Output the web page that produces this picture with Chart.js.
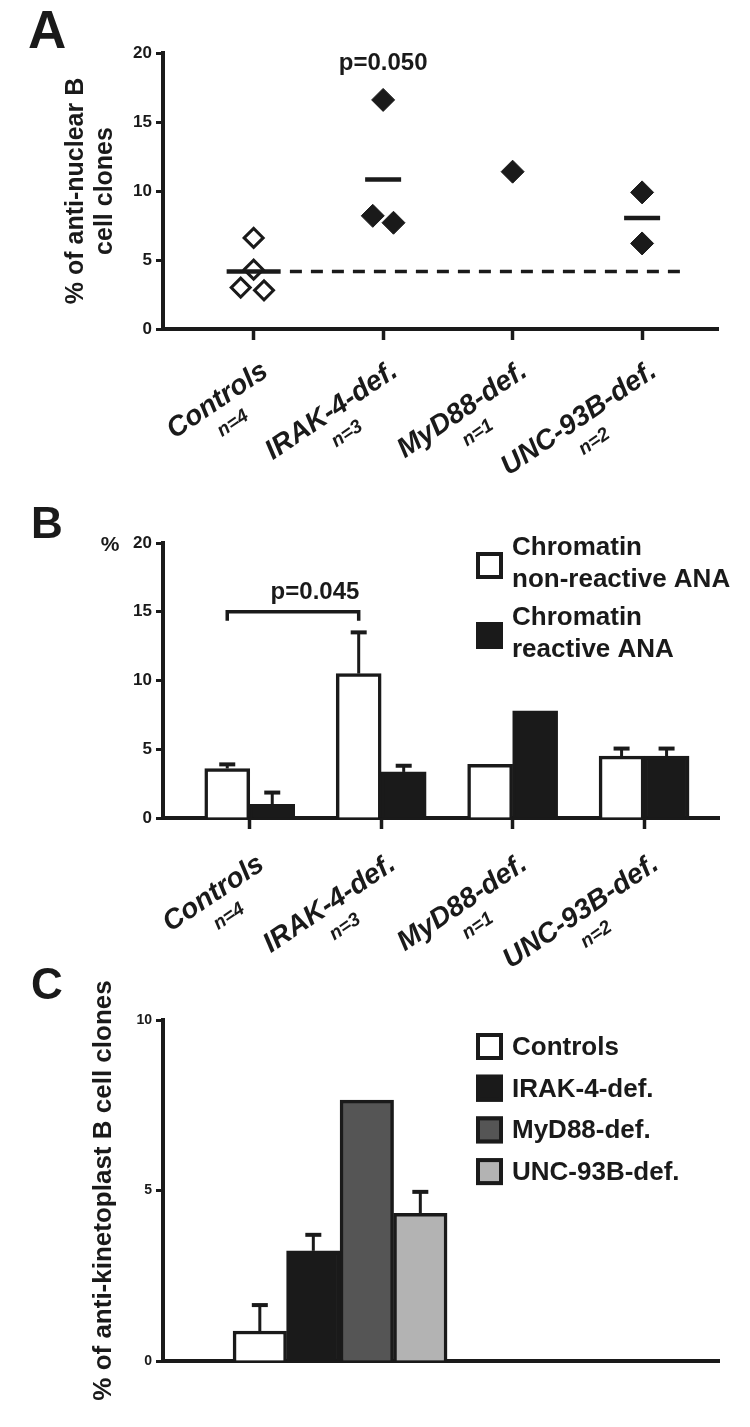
<!DOCTYPE html>
<html>
<head>
<meta charset="utf-8">
<script src="https://cdn.jsdelivr.net/npm/chart.js@4.4.1/dist/chart.umd.min.js"></script>
<style>
  body { margin: 0; background: #fff; width: 750px; height: 1427px; overflow: hidden; position: relative; }
  canvas { position: absolute; left: 0; }
</style>
</head>
<body>
<canvas id="chartA" width="750" height="490" style="top:0px"></canvas>
<canvas id="chartB" width="750" height="510" style="top:470px"></canvas>
<canvas id="chartC" width="750" height="487" style="top:940px"></canvas>
<script>
// groups shown on the x axis
const groups = ["Controls", "IRAK-4-def.", "MyD88-def.", "UNC-93B-def."];
const groupSizes = ["n=4", "n=3", "n=1", "n=2"];

// A: % anti-nuclear B cell clones, one value per donor
const anaControls = [6.6, 4.3, 3.0, 2.8];
const anaIrak4 = [16.6, 8.2, 7.7];
const anaMyd88 = [11.4];
const anaUnc93b = [9.9, 6.2];
// small horizontal spread of the points, as in the figure
const jitterControls = [0, 0, -0.1, 0.08];
const jitterIrak4 = [0, -0.08, 0.08];
const jitterMyd88 = [0];
const jitterUnc93b = [0, 0];
const pValueA = "p=0.050";

// B: chromatin non-reactive / reactive ANA (mean, SEM)
const nonReactiveMean = [3.6, 10.5, 3.9, 4.5];
const nonReactiveSem = [0.3, 3.0, 0, 0.55];
const reactiveMean = [1.0, 3.35, 7.8, 4.5];
const reactiveSem = [0.85, 0.45, 0, 0.55];
const legendB = [["Chromatin", "non-reactive ANA"], ["Chromatin", "reactive ANA"]];
const pValueB = "p=0.045";

// C: % anti-kinetoplast B cell clones (mean, SEM)
const kinetoMean = [0.88, 3.23, 7.65, 4.33];
const kinetoSem = [0.76, 0.47, 0, 0.63];

const yTicksAB = [0, 5, 10, 15, 20];
const yTicksC = [0, 5, 10];

const ink = "#1a1a1a";
const FAMILY = "'Liberation Sans', Arial, Helvetica, sans-serif";
const barColorsC = ["#ffffff", ink, "#555555", "#b3b3b3"];

function mean(arr) {
  return arr.reduce((a, b) => a + b, 0) / arr.length;
}

function yAxis(ticks, fontSize, title) {
  return {
    min: ticks[0],
    max: ticks[ticks.length - 1],
    z: 1,
    afterBuildTicks: (s) => { s.ticks = ticks.map((v) => ({ value: v })); },
    ticks: { color: ink, padding: 4, font: { family: FAMILY, size: fontSize, weight: "bold" } },
    grid: { drawOnChartArea: false, tickLength: 7, tickWidth: 3, tickColor: ink },
    border: { color: ink, width: 4 },
    title: title,
    afterFit: (s) => { s.width = 163; }
  };
}

function xAxis(min, max, height, withTicks) {
  return {
    type: "linear",
    min: min,
    max: max,
    offset: false,
    z: 1,
    afterBuildTicks: (s) => { s.ticks = groups.map((g, i) => ({ value: i + 1 })); },
    ticks: { display: false },
    grid: { display: withTicks, offset: false, drawOnChartArea: false, tickLength: 11, tickWidth: 3.5, tickColor: ink },
    border: { display: true, color: ink, width: 4 },
    afterFit: (s) => { s.height = height; }
  };
}

function drawGroupLabels(chart, dy) {
  const ctx = chart.ctx;
  const xs = chart.scales.x;
  const base = chart.chartArea.bottom;
  ctx.save();
  ctx.fillStyle = ink;
  groups.forEach((g, i) => {
    const px = xs.getPixelForValue(i + 1);
    ctx.save();
    ctx.translate(px + 16, base + dy);
    ctx.rotate(-34 * Math.PI / 180);
    ctx.font = "italic bold 28px " + FAMILY;
    ctx.textAlign = "right";
    ctx.textBaseline = "alphabetic";
    ctx.fillText(g, 0, 0);
    const w = ctx.measureText(g).width;
    ctx.font = "italic bold 19px " + FAMILY;
    ctx.textAlign = "center";
    ctx.fillText(groupSizes[i], -w / 2, 25);
    ctx.restore();
  });
  ctx.restore();
}

function drawPanelLetter(ctx, letter, x, y, size) {
  ctx.save();
  ctx.fillStyle = ink;
  ctx.font = "bold " + size + "px " + FAMILY;
  ctx.textAlign = "left";
  ctx.textBaseline = "alphabetic";
  ctx.fillText(letter, x, y);
  ctx.restore();
}

function drawLegendBox(ctx, x, y, size, fill) {
  ctx.save();
  ctx.fillStyle = fill;
  ctx.fillRect(x, y, size, size);
  ctx.strokeStyle = ink;
  ctx.lineWidth = 4;
  ctx.strokeRect(x + 2, y + 2, size - 4, size - 4);
  ctx.restore();
}

const errorBars = {
  id: "errorBars",
  afterDatasetsDraw(chart) {
    const ctx = chart.ctx;
    const ys = chart.scales.y;
    ctx.save();
    ctx.strokeStyle = ink;
    chart.data.datasets.forEach((ds, di) => {
      if (!ds.sem) return;
      const meta = chart.getDatasetMeta(di);
      meta.data.forEach((bar, i) => {
        const err = ds.sem[i];
        if (!err) return;
        const top = ys.getPixelForValue(ds.data[i].y + err);
        ctx.lineWidth = 3;
        ctx.beginPath();
        ctx.moveTo(bar.x, bar.y);
        ctx.lineTo(bar.x, top);
        ctx.stroke();
        ctx.lineWidth = 4;
        ctx.beginPath();
        ctx.moveTo(bar.x - 8, top);
        ctx.lineTo(bar.x + 8, top);
        ctx.stroke();
      });
    });
    ctx.restore();
  }
};

// ---------- Panel A ----------
const pointsOf = (vals, jit, g) => vals.map((v, i) => ({ x: g + jit[i], y: v }));
const patientPoints = [].concat(
  pointsOf(anaIrak4, jitterIrak4, 2),
  pointsOf(anaMyd88, jitterMyd88, 3),
  pointsOf(anaUnc93b, jitterUnc93b, 4)
);
const controlMean = mean(anaControls);
const meanPoints = [
  { x: 1, y: controlMean },
  { x: 2, y: mean(anaIrak4) },
  { x: 4, y: mean(anaUnc93b) }
];

new Chart(document.getElementById("chartA"), {
  type: "scatter",
  data: {
    datasets: [
      {
        label: "Mean",
        data: meanPoints,
        pointStyle: "line",
        pointRadius: [27, 18, 18],
        pointBorderWidth: 4.5,
        pointBorderColor: ink
      },
      {
        label: "Controls",
        data: pointsOf(anaControls, jitterControls, 1),
        pointStyle: "rectRot",
        pointRadius: 9.5,
        pointBorderWidth: 3,
        pointBackgroundColor: "#ffffff",
        pointBorderColor: ink
      },
      {
        label: "Patients",
        data: patientPoints,
        pointStyle: "rectRot",
        pointRadius: 11.5,
        pointBorderWidth: 1,
        pointBackgroundColor: ink,
        pointBorderColor: ink
      },
      {
        type: "line",
        label: "Control mean",
        data: [{ x: 1.28, y: controlMean }, { x: 4.36, y: controlMean }],
        borderColor: ink,
        borderWidth: 3.5,
        borderDash: [12, 9],
        pointRadius: 0
      }
    ]
  },
  options: {
    responsive: false,
    devicePixelRatio: 1,
    animation: false,
    layout: { padding: { top: 53, right: 31, bottom: 0, left: 0 } },
    plugins: { legend: { display: false }, tooltip: { enabled: false } },
    scales: {
      x: xAxis(0.3, 4.59, 161, true),
      y: yAxis(yTicksAB, 17, {
        display: true,
        text: ["% of anti-nuclear B", "cell clones"],
        color: ink,
        font: { family: FAMILY, size: 25, weight: "bold", lineHeight: "29px" },
        padding: { top: 62, bottom: 0 }
      })
    }
  },
  plugins: [{
    id: "panelA",
    afterDraw(chart) {
      const ctx = chart.ctx;
      drawPanelLetter(ctx, "A", 28, 48, 53);
      ctx.save();
      ctx.fillStyle = ink;
      ctx.font = "bold 24px " + FAMILY;
      ctx.textAlign = "center";
      ctx.fillText(pValueA, chart.scales.x.getPixelForValue(2), chart.chartArea.top + 17);
      ctx.restore();
      drawGroupLabels(chart, 46);
    }
  }]
});

// ---------- Panel B ----------
const toXY = (vals) => vals.map((v, i) => ({ x: i + 1, y: v }));

new Chart(document.getElementById("chartB"), {
  type: "bar",
  data: {
    datasets: [
      {
        label: "Chromatin non-reactive ANA",
        data: toXY(nonReactiveMean),
        sem: nonReactiveSem,
        backgroundColor: "#ffffff",
        borderColor: ink,
        borderWidth: 3.5,
        barThickness: 45
      },
      {
        label: "Chromatin reactive ANA",
        data: toXY(reactiveMean),
        sem: reactiveSem,
        backgroundColor: ink,
        borderColor: ink,
        borderWidth: 3.5,
        barThickness: 45
      }
    ]
  },
  options: {
    responsive: false,
    devicePixelRatio: 1,
    animation: false,
    layout: { padding: { top: 73, right: 31, bottom: 0, left: 0 } },
    plugins: { legend: { display: false }, tooltip: { enabled: false } },
    scales: {
      x: xAxis(0.34, 4.57, 162, true),
      y: yAxis(yTicksAB, 17, { display: false })
    }
  },
  plugins: [errorBars, {
    id: "panelB",
    afterDraw(chart) {
      const ctx = chart.ctx;
      const ys = chart.scales.y;
      drawPanelLetter(ctx, "B", 31, 68, 44);

      ctx.save();
      ctx.fillStyle = ink;
      ctx.font = "bold 21px " + FAMILY;
      ctx.textAlign = "center";
      ctx.textBaseline = "middle";
      ctx.fillText("%", 110, ys.getPixelForValue(20) + 2);

      // significance bracket between the non-reactive bars
      const meta = chart.getDatasetMeta(0);
      const x1 = meta.data[0].x;
      const x2 = meta.data[1].x;
      const yb = ys.getPixelForValue(15);
      ctx.strokeStyle = ink;
      ctx.lineWidth = 3.5;
      ctx.beginPath();
      ctx.moveTo(x1, yb + 9);
      ctx.lineTo(x1, yb);
      ctx.lineTo(x2, yb);
      ctx.lineTo(x2, yb + 9);
      ctx.stroke();
      ctx.font = "bold 24px " + FAMILY;
      ctx.textBaseline = "alphabetic";
      ctx.fillText(pValueB, (x1 + x2) / 2 + 22, yb - 13);

      // legend
      const colors = chart.data.datasets.map((d) => d.backgroundColor);
      ctx.font = "bold 26px " + FAMILY;
      ctx.textAlign = "left";
      legendB.forEach((lines, i) => {
        const y0 = 85 + i * 70;
        drawLegendBox(ctx, 476, y0 - 3, 27, colors[i]);
        lines.forEach((t, j) => ctx.fillText(t, 512, y0 + j * 32));
      });
      ctx.restore();
      drawGroupLabels(chart, 50);
    }
  }]
});

// ---------- Panel C ----------
new Chart(document.getElementById("chartC"), {
  type: "bar",
  data: {
    datasets: groups.map((g, i) => ({
      label: g,
      data: [{ x: 1, y: kinetoMean[i] }],
      sem: [kinetoSem[i]],
      backgroundColor: barColorsC[i],
      borderColor: ink,
      borderWidth: 3.5,
      barThickness: 53.5
    }))
  },
  options: {
    responsive: false,
    devicePixelRatio: 1,
    animation: false,
    layout: { padding: { top: 80, right: 31, bottom: 0, left: 0 } },
    plugins: { legend: { display: false }, tooltip: { enabled: false } },
    scales: {
      x: xAxis(0, 3.14, 66, false),
      y: yAxis(yTicksC, 14, {
        display: true,
        text: "% of anti-kinetoplast B cell clones",
        color: ink,
        font: { family: FAMILY, size: 26, weight: "bold", lineHeight: 1.2 },
        padding: { top: 88, bottom: 0 }
      })
    }
  },
  plugins: [errorBars, {
    id: "panelC",
    afterDraw(chart) {
      const ctx = chart.ctx;
      drawPanelLetter(ctx, "C", 31, 59, 44);
      ctx.save();
      ctx.fillStyle = ink;
      ctx.font = "bold 26px " + FAMILY;
      ctx.textAlign = "left";
      chart.data.datasets.forEach((ds, i) => {
        const yBase = 115 + i * 41.7;
        drawLegendBox(ctx, 476, yBase - 22, 27, ds.backgroundColor);
        ctx.fillStyle = ink;
        ctx.fillText(ds.label, 512, yBase);
      });
      ctx.restore();
    }
  }]
});
</script>
</body>
</html>
